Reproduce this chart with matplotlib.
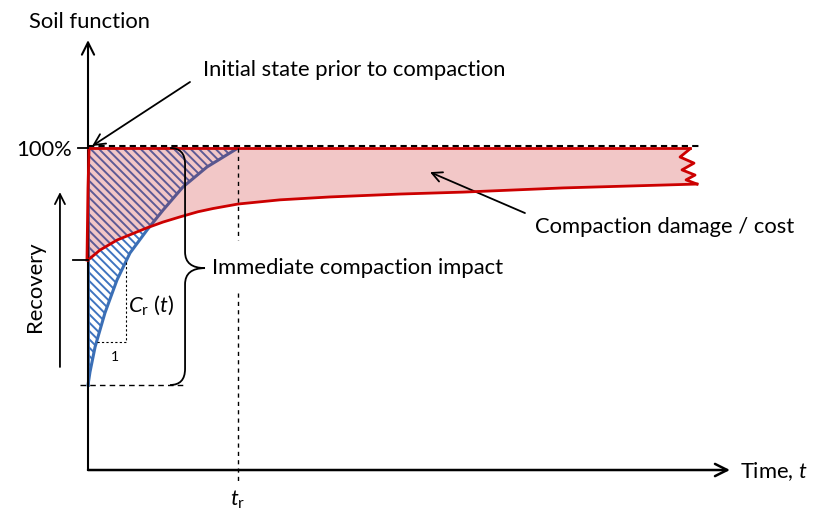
import matplotlib.pyplot as plt
from matplotlib.path import Path
from matplotlib.patches import PathPatch

# fonts
plt.rcParams['font.family'] = ['Lato', 'DejaVu Sans']
plt.rcParams['mathtext.fontset'] = 'custom'
plt.rcParams['mathtext.rm'] = 'Lato'
plt.rcParams['mathtext.it'] = 'Lato:italic'
plt.rcParams['hatch.linewidth'] = 1.4

# recovery curve (blue), time in units of t_r, soil function in %
blue_t = [0, 0.013, 0.047, 0.113, 0.193, 0.28, 0.393, 0.5, 0.633, 0.793, 1.0]
blue_y = [26.4, 30.4, 38.2, 48.8, 59.0, 67.4, 74.5, 80.7, 87.9, 94.1, 100]

# actual soil function after compaction (red)
red_t = [0, 0.08, 0.193, 0.393, 0.5, 0.613, 0.733, 0.833, 1.0, 1.28,
         1.613, 2.08, 2.5, 3.167, 4.06]
red_y = [65.2, 68.3, 71.4, 75.2, 77.0, 78.6, 80.2, 81.2, 82.6, 83.9,
         84.8, 85.7, 86.3, 87.6, 88.8]

# red left edge (drop at compaction)
edge_t = [0.007, 0.0, -0.007]
edge_y = [100, 87.6, 65.2]

# wavy cut at the end of the damage band
wave_t = [4.013, 3.947, 4.04, 3.96, 4.047, 3.987, 4.06]
wave_y = [99.7, 97.2, 95.3, 93.2, 91.6, 90.1, 88.8]

t_r = 1.0
full = 100
slope_t = [0.06, 0.253, 0.253]
slope_y = [39.8, 39.8, 64.6]

fig = plt.figure(figsize=(8.19, 5.14), dpi=100)
ax = fig.add_axes([0, 0, 1, 1])
ax.set_xlim(-0.5867, 4.8733)
ax.set_ylim(-13.66, 145.96)
ax.axis('off')

# hatched recovery area (between axis, 100% and blue curve)
hatch_t = [0] + blue_t[::-1]
hatch_y = [full] + blue_y[::-1]
ax.fill(hatch_t, hatch_y, facecolor='none', edgecolor='#3f74c0',
        hatch='\\\\\\\\', linewidth=0, zorder=1)
ax.plot(blue_t, blue_y, color='#3b6fb6', lw=2.2, zorder=2)
ax.plot([0, t_r], [full, full], color='#7aa0d0', lw=1.5, zorder=2)
ax.plot([0, 0], [blue_y[0], full], color='#3b6fb6', lw=2, zorder=2)

# damage band (pink)
band_t = [0] + wave_t + red_t[::-1]
band_y = [full] + wave_y + red_y[::-1]
ax.fill(band_t, band_y, facecolor='#c80000', alpha=0.22, linewidth=0, zorder=3)

# red outline
ax.plot(red_t, red_y, color='#cc0000', lw=2, zorder=4)
ax.plot(edge_t, edge_y, color='#cc0000', lw=2, zorder=4)
ax.plot([0, wave_t[0]], [full, full], color='#cc0000', lw=2, zorder=4)
ax.plot(wave_t, wave_y, color='#cc0000', lw=2, zorder=4, solid_joinstyle='round')

# dashed reference lines
ax.plot([0, 4.07], [full + 0.5, full + 0.5], color='black', lw=1.5,
        dashes=(3, 2), zorder=5)
ax.plot([t_r, t_r], [full, 71.4], color='black', lw=1, dashes=(3, 3), zorder=5)
ax.plot([t_r, t_r], [55.0, -3.7], color='black', lw=1, dashes=(3, 3), zorder=5)
ax.plot([-0.053, 0.633], [blue_y[0], blue_y[0]], color='black', lw=1,
        dashes=(4, 3), zorder=5)
ax.plot(slope_t, slope_y, color='black', lw=0.8, dashes=(2, 2), zorder=5)

# ticks on the y axis
ax.plot([-0.067, 0], [full, full], color='black', lw=1.3, zorder=5)
ax.plot([-0.1, 0], [red_y[0], red_y[0]], color='black', lw=1.3, zorder=5)

# axes with arrows
ax.annotate('', xy=(0, 133.5), xytext=(0, 0),
            arrowprops=dict(arrowstyle='->', lw=1.5, color='black',
                            mutation_scale=22, shrinkA=0, shrinkB=0))
ax.annotate('', xy=(4.28, 0), xytext=(0, 0),
            arrowprops=dict(arrowstyle='->', lw=1.8, color='black',
                            mutation_scale=22, shrinkA=0, shrinkB=0))

# curly brace
bx0, bx1, bx2 = 0.547, 0.647, 0.78
y_top, y_bot = full, blue_y[0]
y_mid = 62.7
verts = [(bx0, y_top), (bx1, y_top), (bx1, y_top - 5),
         (bx1, y_mid + 5), (bx1, y_mid), (bx2, y_mid),
         (bx1, y_mid), (bx1, y_mid - 5),
         (bx1, y_bot + 5), (bx1, y_bot), (bx0, y_bot)]
codes = [Path.MOVETO, Path.CURVE3, Path.CURVE3,
         Path.LINETO, Path.CURVE3, Path.CURVE3,
         Path.CURVE3, Path.CURVE3,
         Path.LINETO, Path.CURVE3, Path.CURVE3]
ax.add_patch(PathPatch(Path(verts, codes), facecolor='none',
                       edgecolor='black', lw=1.3, zorder=6))

# labels
fs = 15.8
ax.text(0.013, 139.1, 'Soil function', fontsize=fs, ha='center', va='center')
ax.text(-0.107, 99.4, '100%', fontsize=fs, ha='right', va='center')
ax.text(-0.353, 56.8, 'Recovery', fontsize=fs, ha='center', va='center',
        rotation=90)
ax.annotate('', xy=(-0.187, 86.3), xytext=(-0.187, 32),
            arrowprops=dict(arrowstyle='->', lw=1.3, color='black',
                            mutation_scale=18, shrinkA=0, shrinkB=0))
ax.text(0.767, 124.2, 'Initial state prior to compaction', fontsize=fs,
        ha='left', va='center')
ax.annotate('', xy=(0.027, 100.6), xytext=(0.68, 120.5),
            arrowprops=dict(arrowstyle='->', lw=1.3, color='black',
                            mutation_scale=20, shrinkA=0, shrinkB=0))
ax.text(0.827, 62.7, 'Immediate compaction impact', fontsize=fs,
        ha='left', va='center')
ax.text(2.98, 75.5, 'Compaction damage / cost', fontsize=fs,
        ha='left', va='center')
ax.annotate('', xy=(2.28, 92.5), xytext=(2.913, 79.8),
            arrowprops=dict(arrowstyle='->', lw=1.3, color='black',
                            mutation_scale=18, shrinkA=0, shrinkB=0))
ax.text(0.267, 51.2, r'$C_{\mathrm{r}}\ (t)$', fontsize=fs, ha='left',
        va='center')
ax.text(0.18, 35.1, '1', fontsize=10, ha='center', va='center')
ax.text(4.347, -0.6, r'Time, $t$', fontsize=fs, ha='left', va='center')
ax.text(t_r, -9.3, r'$t_{\mathrm{r}}$', fontsize=fs, ha='center', va='center')

plt.savefig('out.png', dpi=100)
